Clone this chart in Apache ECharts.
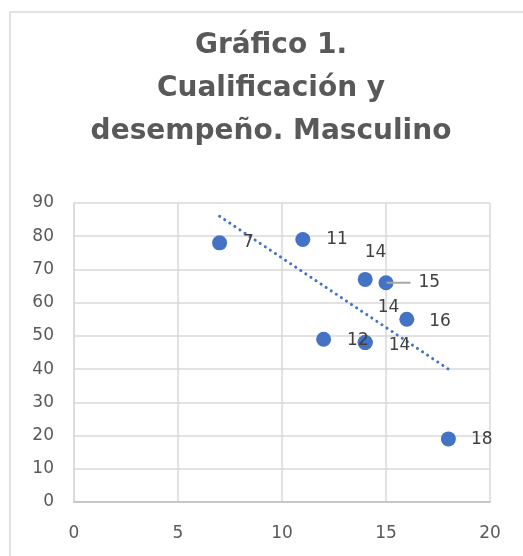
<!DOCTYPE html>
<html>
<head>
<meta charset="utf-8">
<title>Gráfico 1</title>
<script src="https://cdn.jsdelivr.net/npm/echarts@6/dist/echarts.min.js"></script>
<style>
  html, body { margin: 0; padding: 0; background: #fff; }
  #chart { width: 523px; height: 556px; }
</style>
</head>
<body>
<div id="chart"></div>
<script>
  // cualificación (x) y desempeño (y)
  const cualificacion = [7, 11, 14, 15, 16, 12, 14, 14, 18];
  const desempeno = [78, 79, 67, 66, 55, 49, 48, 48, 19];
  // label offsets, Excel labels were dragged around a bit
  const labelOffsets = [[11, 0], [11, 0], [-13, -27], [-12, 0], [10, 2], [11, 1], [11, 3], [0, -35], [10, 1]];
  // linear trendline ends
  const trendX = [7, 18];
  const trendY = [86, 40];

  const font = 'DejaVu Sans';
  const chart = echarts.init(document.getElementById('chart'));

  const points = cualificacion.map((x, i) => {
    const item = {
      value: [x, desempeno[i]],
      label: { offset: labelOffsets[i] }
    };
    if (i === 3) {
      // leader line drawn as part of the label
      item.label.formatter = p => '{l|}{v|' + p.value[0] + '}';
    }
    return item;
  });

  chart.setOption({
    animation: false,
    title: {
      text: 'Gráfico 1.\nCualificación y\ndesempeño. Masculino',
      left: 266,
      textAlign: 'center',
      top: 19,
      textStyle: {
        fontFamily: font,
        fontWeight: 'bold',
        fontSize: 28,
        lineHeight: 43,
        color: '#595959'
      }
    },
    graphic: [{
      type: 'rect',
      shape: { x: 10, y: 12, width: 600, height: 600 },
      style: { fill: 'none', stroke: '#d9d9d9', lineWidth: 1.5 },
      silent: true,
      z: -1
    }],
    grid: { left: 74, right: 33, top: 203, bottom: 54 },
    xAxis: {
      type: 'value',
      min: 0,
      max: 20,
      interval: 5,
      axisLine: { show: true, lineStyle: { color: '#bfbfbf', width: 1.5 } },
      axisTick: { show: false },
      splitLine: { show: true, lineStyle: { color: '#d9d9d9', width: 1.5 } },
      axisLabel: {
        margin: 23,
        fontFamily: font,
        fontSize: 17,
        color: '#595959'
      }
    },
    yAxis: {
      type: 'value',
      min: 0,
      max: 90,
      interval: 10,
      axisLine: { show: true, lineStyle: { color: '#d9d9d9', width: 1.5 } },
      axisTick: { show: false },
      splitLine: { show: true, lineStyle: { color: '#d9d9d9', width: 1.5 } },
      axisLabel: {
        margin: 20,
        fontFamily: font,
        fontSize: 17,
        color: '#595959'
      }
    },
    series: [{
      type: 'scatter',
      data: points,
      symbol: 'circle',
      symbolSize: 15,
      itemStyle: { color: '#4472c4', opacity: 1 },
      label: {
        show: true,
        position: 'right',
        distance: 5,
        fontFamily: font,
        fontSize: 17,
        color: '#404040',
        formatter: p => String(p.value[0]),
        rich: {
          l: { width: 24, height: 2, backgroundColor: '#a6a6a6', verticalAlign: 'middle' },
          v: { fontFamily: font, fontSize: 17, color: '#404040', padding: [0, 0, 0, 8] }
        }
      },
      z: 3
    }, {
      type: 'line',
      data: trendX.map((x, i) => [x, trendY[i]]),
      symbol: 'none',
      lineStyle: { color: '#4472c4', width: 3, type: [0.1, 6], cap: 'round' },
      z: 2
    }]
  });
</script>
</body>
</html>
